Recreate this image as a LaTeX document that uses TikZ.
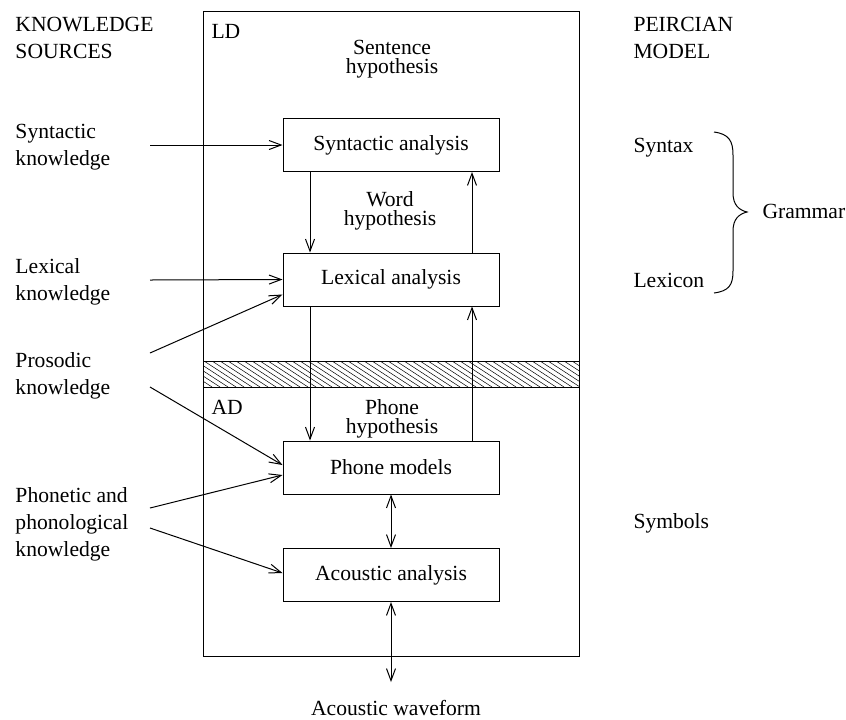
\documentclass[tikz,border=0pt]{standalone}
\usepackage{fontspec}
\setmainfont{Liberation Serif}
\usetikzlibrary{arrows.meta}

\begin{document}
\begin{tikzpicture}[x=0.5pt,y=-0.5pt,line width=0.5pt,
  every node/.style={font=\fontsize{10.8}{13.5}\selectfont,inner sep=0pt},
  proc/.style={draw,minimum width=108pt,minimum height=26.5pt},
  lbl/.style={anchor=base west,align=left},
  tight/.style={align=center,anchor=base,font=\fontsize{10.8}{9.5}\selectfont},
  arr/.style={-{Straight Barb[length=6pt,width=4.5pt]}},
  biarr/.style={{Straight Barb[length=6pt,width=4.5pt]}-{Straight Barb[length=6pt,width=4.5pt]}}]

\useasboundingbox (0,0) rectangle (846,719);

% outer frame of the recognizer
\draw (203,11) rectangle (579,656);

% hatched band separating LD from AD
\begin{scope}
  \clip (203,361) rectangle (579,387);
  \foreach \x in {140,148,...,584}
    \draw[line width=0.25pt] (\x,361) -- ++(40,26);
\end{scope}
\draw (203,361) rectangle (579,387);

% processing stages
\node[proc] (syn)   at (391,145)   {Syntactic analysis};
\node[proc] (lex)   at (391,279.5) {Lexical analysis};
\node[proc] (phone) at (391,467.5) {Phone models};
\node[proc] (acou)  at (391,575)   {Acoustic analysis};

% labels inside the frame (multi-line nodes sit on their last baseline)
\node[lbl] (ld) at (211,38)  {LD};
\node[lbl] (ad) at (211,414) {AD};
\node[tight] (senthyp)  at (392,73)  {Sentence\\hypothesis};
\node[tight] (wordhyp)  at (390,225) {Word\\hypothesis};
\node[tight] (phonehyp) at (392,433) {Phone\\hypothesis};

% top-down and bottom-up flow
\draw[arr] ([xshift=-40.5pt]syn.south)  -- ([xshift=-40.5pt]lex.north);
\draw[arr] ([xshift=40.5pt]lex.north)   -- ([xshift=40.5pt]syn.south);
\draw[arr] ([xshift=-40.5pt]lex.south)  -- ([xshift=-40.5pt]phone.north);
\draw[arr] ([xshift=40.5pt]phone.north) -- ([xshift=40.5pt]lex.south);
\draw[biarr] (phone) -- (acou);
\coordinate (wave) at (391,682);
\draw[biarr] (acou) -- (wave);
\node[anchor=base] (wavetxt) at (396,715) {Acoustic waveform};

% knowledge sources
\node[lbl] (ks)   at (15,58)  {KNOWLEDGE\\SOURCES};
\node[lbl] (synk) at (15,165) {Syntactic\\knowledge};
\node[lbl] (lexk) at (15,300) {Lexical\\knowledge};
\node[lbl] (prok) at (15,394) {Prosodic\\knowledge};
\node[lbl] (phok) at (15,556) {Phonetic and\\phonological\\knowledge};

\coordinate (s1) at (150,145);
\coordinate (s2) at (150,280);
\coordinate (s3) at (150,353);
\coordinate (s4) at (150,387);
\coordinate (s5) at (150,508);
\coordinate (s6) at (150,528);
\draw[arr] (s1) -- (syn.west);
\draw[arr] (s2) -- (lex.west);
\draw[arr] (s3) -- ([yshift=-7.5pt]lex.west);
\draw[arr] (s4) -- ([yshift=1.25pt]phone.west);
\draw[arr] (s5) -- ([yshift=-3.75pt]phone.west);
\draw[arr] (s6) -- ([yshift=1pt]acou.west);

% Peircian model
\node[lbl] (pm)      at (633,58)  {PEIRCIAN\\MODEL};
\node[lbl] (syntax)  at (633,152) {Syntax};
\node[lbl] (lexicon) at (633,287) {Lexicon};
\node[lbl] (grammar) at (762,218) {Grammar};
\node[lbl] (symbols) at (633,528) {Symbols};

% brace grouping syntax and lexicon
\draw (714,132) .. controls (729,134) and (733,141) .. (733,155)
  -- (733,193) .. controls (733,205) and (739,210) .. (747,212)
  .. controls (739,214) and (733,219) .. (733,231)
  -- (733,271) .. controls (733,285) and (729,291) .. (714,293);
\end{tikzpicture}
\end{document}
